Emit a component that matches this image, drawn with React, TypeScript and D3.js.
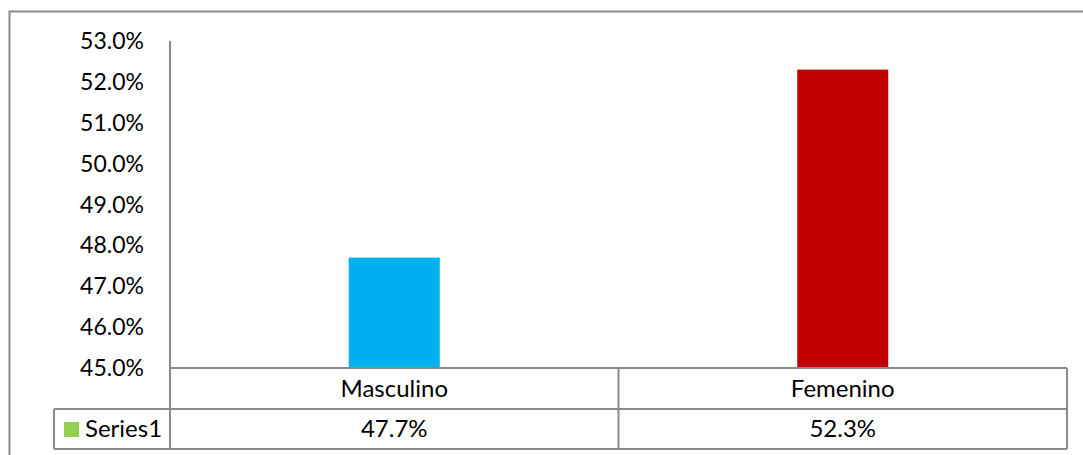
import React from "react";
import * as d3 from "d3";

const categories = ["Masculino", "Femenino"];
const values = [47.7, 52.3];
const barColors = ["#00B0F0", "#C00000"];
const yTicks = [45, 46, 47, 48, 49, 50, 51, 52, 53];
const seriesName = "Series1";
const legendColor = "#92D050";

const W = 1083;
const H = 455;
const FONT = "Lato, 'Open Sans', sans-serif";
const GRID = "#8a8a8a";

export default function App() {
  const left = 170;
  const right = 1067;
  const top = 41;
  const bottom = 368;
  const row1 = 409;
  const row2 = 449;
  const legendLeft = 54;

  const x = d3.scaleBand<string>().domain(categories).range([left, right]);
  const y = d3.scaleLinear().domain([45, 53]).range([bottom, top]);
  const barW = 91;
  const fmt = (v: number) => v.toFixed(1) + "%";

  return (
    <svg width={W} height={H} style={{ position: "absolute", left: 0, top: 0 }}>
      <rect x={0} y={0} width={W} height={H} fill="#fff" />
      <rect x={9.5} y={11.5} width={W} height={H} fill="none" stroke={GRID} strokeWidth={2} />
      {/* bars */}
      {categories.map((c, i) => {
        const cx = (x(c) as number) + x.bandwidth() / 2;
        return (
          <rect key={c} x={cx - barW / 2} y={y(values[i])} width={barW} height={bottom - y(values[i])} fill={barColors[i]} />
        );
      })}
      {/* y axis */}
      <line x1={left} x2={left} y1={top} y2={row2} stroke={GRID} strokeWidth={2} />
      {yTicks.map((t) => (
        <text key={t} x={144} y={y(t)} dy="0.35em" textAnchor="end" fontFamily={FONT} fontSize={23} fill="#000">
          {fmt(t)}
        </text>
      ))}
      {/* table */}
      <line x1={left} x2={right} y1={bottom} y2={bottom} stroke={GRID} strokeWidth={2} />
      <line x1={legendLeft} x2={right} y1={row1} y2={row1} stroke={GRID} strokeWidth={2} />
      <line x1={legendLeft} x2={right} y1={row2} y2={row2} stroke={GRID} strokeWidth={2} />
      <line x1={legendLeft} x2={legendLeft} y1={row1} y2={row2} stroke={GRID} strokeWidth={2} />
      <line x1={right} x2={right} y1={bottom} y2={row2} stroke={GRID} strokeWidth={2} />
      {categories.slice(1).map((c) => (
        <line key={c} x1={x(c) as number} x2={x(c) as number} y1={bottom} y2={row2} stroke={GRID} strokeWidth={2} />
      ))}
      {categories.map((c, i) => {
        const cx = (x(c) as number) + x.bandwidth() / 2;
        return (
          <g key={c}>
            <text x={cx} y={(bottom + row1) / 2} dy="0.35em" textAnchor="middle" fontFamily={FONT} fontSize={24} fill="#000">
              {c}
            </text>
            <text x={cx} y={(row1 + row2) / 2} dy="0.35em" textAnchor="middle" fontFamily={FONT} fontSize={24} fill="#000">
              {fmt(values[i])}
            </text>
          </g>
        );
      })}
      <rect x={64} y={422} width={15} height={15} fill={legendColor} />
      <text x={85} y={(row1 + row2) / 2} dy="0.35em" fontFamily={FONT} fontSize={24} fill="#000">
        {seriesName}
      </text>
    </svg>
  );
}
